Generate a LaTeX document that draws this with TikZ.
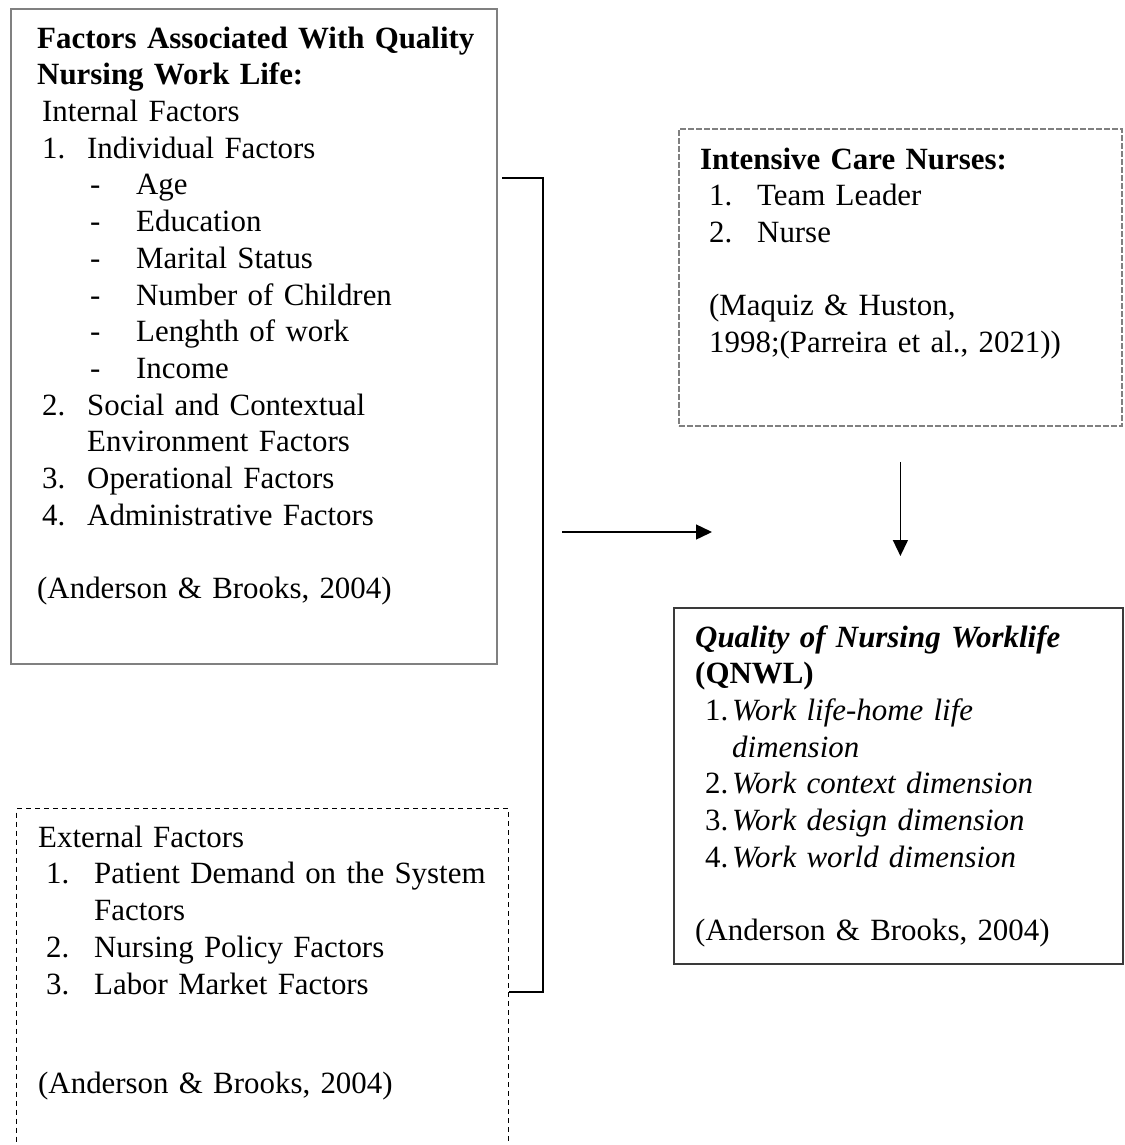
\documentclass[tikz,border=0pt]{standalone}
\usepackage{fontspec}
\setmainfont{Liberation Serif}
\usetikzlibrary{arrows.meta, positioning}
\setlength{\parindent}{0pt}
\definecolor{qnwgray}{HTML}{808080}
\definecolor{qnwdark}{HTML}{3A3A3A}
\tikzset{
  graybox/.style={rectangle, draw=qnwgray, line width=1.6pt, inner sep=0pt, anchor=north west},
  darkbox/.style={rectangle, draw=qnwdark, line width=1.5pt, inner sep=0pt, anchor=north west},
  carebox/.style={rectangle, draw=qnwgray, line width=1.8pt, dash pattern=on 6pt off 2pt,
    inner sep=0pt, anchor=north west},
  extbox/.style={rectangle, draw=black, line width=1.2pt, dash pattern=on 5pt off 4pt,
    inner sep=0pt, anchor=north west},
  boxtext/.style={inner sep=0pt, align=left, font=\fontsize{30.9pt}{36.7pt}\selectfont},
  joinline/.style={line width=1.4pt, black},
  arr/.style={-{Triangle[length=16pt, width=15pt]}, line width=1.4pt, black},
}
\newcommand{\nitem}[2]{\makebox[#1][l]{#2}}

\begin{document}
\begin{tikzpicture}[x=1pt, y=-1pt]
  \useasboundingbox (0,0) rectangle (1124,1145);
  \clip (0,0) rectangle (1124,1145);

  % boxes
  \node[graybox, minimum width=486pt, minimum height=655pt] (intbox) at (10,8) {};
  \node[carebox, minimum width=443pt, minimum height=297pt] (carebox) at (678,128) {};
  \node[darkbox, minimum width=449pt, minimum height=356pt] (qnwlbox) at (673,607) {};
  \node[extbox, minimum width=492pt, minimum height=380pt] (extbox) at (16,808) {};

  % texts
  \node[boxtext, text width=460pt, below right=14.3pt and 27pt of intbox.north west] (inttext) {%
    \textbf{\strut Factors Associated With Quality}\\
    \textbf{Nursing Work Life:}\\
    \hspace*{5pt}Internal Factors\\
    \hspace*{5pt}\nitem{45pt}{1.}Individual Factors\\
    \hspace*{53pt}\nitem{46pt}{-}Age\\
    \hspace*{53pt}\nitem{46pt}{-}Education\\
    \hspace*{53pt}\nitem{46pt}{-}Marital Status\\
    \hspace*{53pt}\nitem{46pt}{-}Number of Children\\
    \hspace*{53pt}\nitem{46pt}{-}Lenghth of work\\
    \hspace*{53pt}\nitem{46pt}{-}Income\\
    \hspace*{5pt}\nitem{45pt}{2.}Social and Contextual\\
    \hspace*{50pt}Environment Factors\\
    \hspace*{5pt}\nitem{45pt}{3.}Operational Factors\\
    \hspace*{5pt}\nitem{45pt}{4.}Administrative Factors\\[36.7pt]
    (Anderson \& Brooks, 2004)};
  \node[boxtext, text width=410pt, below right=15.3pt and 22pt of carebox.north west] (caretext) {%
    \textbf{\strut Intensive Care Nurses:}\\
    \hspace*{9pt}\nitem{48pt}{1.}Team Leader\\
    \hspace*{9pt}\nitem{48pt}{2.}Nurse\\[36.7pt]
    \hspace*{9pt}(Maquiz \& Huston,\\
    \hspace*{9pt}1998;(Parreira et al., 2021))};
  \node[boxtext, text width=420pt, below right=14.3pt and 22pt of qnwlbox.north west] (qnwltext) {%
    \textbf{\textit{\strut Quality of Nursing Worklife}}\\
    \textbf{(QNWL)}\\
    \hspace*{10pt}\nitem{27pt}{1.}\textit{Work life-home life}\\
    \hspace*{37pt}\textit{dimension}\\
    \hspace*{10pt}\nitem{27pt}{2.}\textit{Work context dimension}\\
    \hspace*{10pt}\nitem{27pt}{3.}\textit{Work design dimension}\\
    \hspace*{10pt}\nitem{27pt}{4.}\textit{Work world dimension}\\[36.7pt]
    (Anderson \& Brooks, 2004)};
  \node[boxtext, text width=470pt, below right=13.3pt and 22pt of extbox.north west] (exttext) {%
    \strut External Factors\\
    \hspace*{8pt}\nitem{48pt}{1.}Patient Demand on the System\\
    \hspace*{56pt}Factors\\
    \hspace*{8pt}\nitem{48pt}{2.}Nursing Policy Factors\\
    \hspace*{8pt}\nitem{48pt}{3.}Labor Market Factors\\[63pt]
    (Anderson \& Brooks, 2004)};

  % connectors
  \coordinate (brtop) at (502,178);
  \coordinate (brbot) at (extbox.east |- 0,992);
  \draw[joinline] (brtop) -- ++(41,0) |- (brbot);
  \coordinate (hstart) at (562,532);
  \coordinate (hend) at (712,532);
  \draw[arr] (hstart) -- (hend);
  \draw[arr] ([yshift=-35pt]carebox.south) -- ([yshift=51pt]carebox.south |- qnwlbox.north);
\end{tikzpicture}
\end{document}
